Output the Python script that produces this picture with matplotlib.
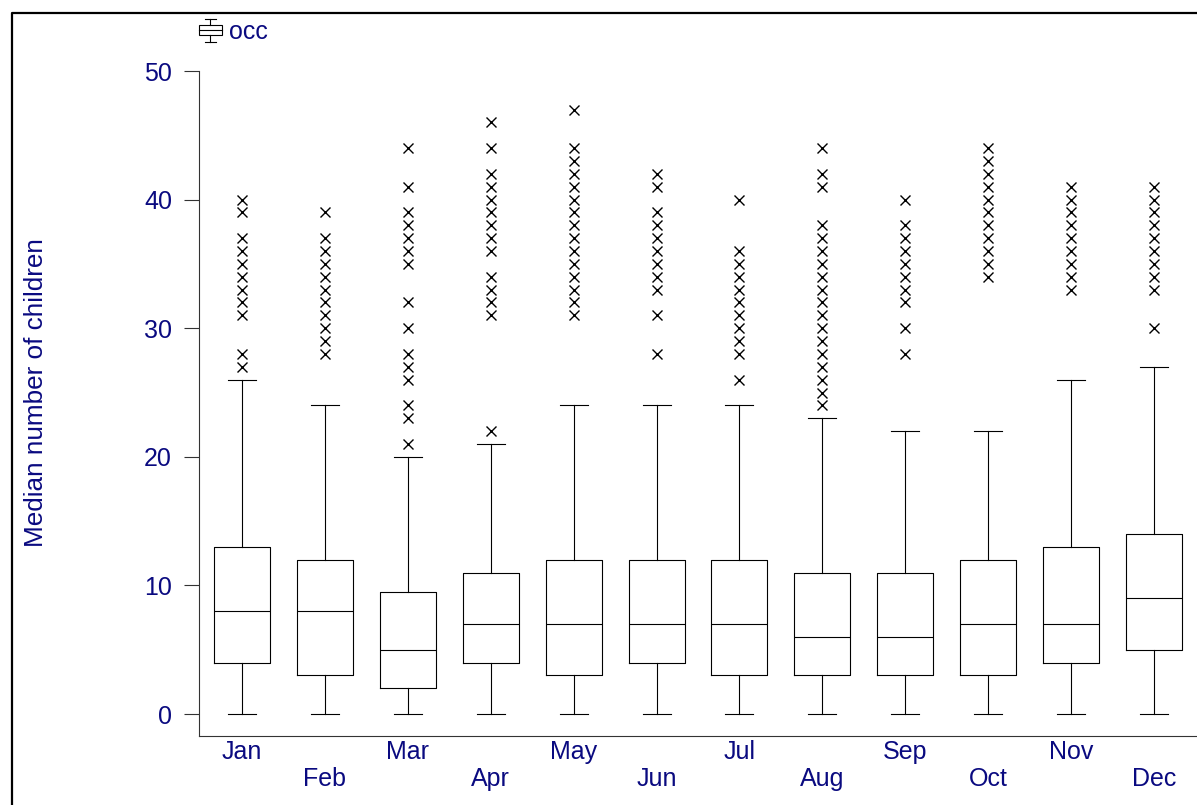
import matplotlib.pyplot as plt
from matplotlib.legend_handler import HandlerBase
from matplotlib.lines import Line2D
from matplotlib.patches import Rectangle

plt.rcParams['font.family'] = ['Liberation Sans', 'DejaVu Sans']

NAVY = '#0a0a80'

months = ['Jan', 'Feb', 'Mar', 'Apr', 'May', 'Jun',
          'Jul', 'Aug', 'Sep', 'Oct', 'Nov', 'Dec']
q1 = [4, 3, 2, 4, 3, 4, 3, 3, 3, 3, 4, 5]
median = [8, 8, 5, 7, 7, 7, 7, 6, 6, 7, 7, 9]
q3 = [13, 12, 9.5, 11, 12, 12, 12, 11, 11, 12, 13, 14]
whisker_low = [0, 0, 0, 0, 0, 0, 0, 0, 0, 0, 0, 0]
whisker_high = [26, 24, 20, 21, 24, 24, 24, 23, 22, 22, 26, 27]
outliers = [
    [27, 28, 31, 32, 33, 34, 35, 36, 37, 39, 40],
    [28, 29, 30, 31, 32, 33, 34, 35, 36, 37, 39],
    [21, 23, 24, 26, 27, 28, 30, 32, 35, 36, 37, 38, 39, 41, 44],
    [22, 31, 32, 33, 34, 36, 37, 38, 39, 40, 41, 42, 44, 46],
    [31, 32, 33, 34, 35, 36, 37, 38, 39, 40, 41, 42, 43, 44, 47],
    [28, 31, 33, 34, 35, 36, 37, 38, 39, 41, 42],
    [26, 28, 29, 30, 31, 32, 33, 34, 35, 36, 40],
    [24, 25, 26, 27, 28, 29, 30, 31, 32, 33, 34, 35, 36, 37, 38, 41, 42, 44],
    [28, 30, 32, 33, 34, 35, 36, 37, 38, 40],
    [34, 35, 36, 37, 38, 39, 40, 41, 42, 43, 44],
    [33, 34, 35, 36, 37, 38, 39, 40, 41],
    [30, 33, 34, 35, 36, 37, 38, 39, 40, 41],
]


class BoxIcon(HandlerBase):
    """Small box-and-whisker glyph for the legend."""

    def create_artists(self, legend, orig_handle, xdescent, ydescent,
                       width, height, fontsize, trans):
        x0, y0 = -xdescent, -ydescent
        cx = x0 + width / 2
        kw = dict(color='black', lw=0.8, transform=trans)
        box = Rectangle((x0, y0 + 0.2 * height), width, 0.6 * height,
                        fc='white', ec='black', lw=0.8, transform=trans)
        med = Line2D([x0, x0 + width], [y0 + 0.5 * height] * 2, **kw)
        w1 = Line2D([cx, cx], [y0 - 0.15 * height, y0 + 0.2 * height], **kw)
        w2 = Line2D([cx, cx], [y0 + 0.8 * height, y0 + 1.15 * height], **kw)
        c1 = Line2D([cx - width / 4, cx + width / 4], [y0 - 0.15 * height] * 2, **kw)
        c2 = Line2D([cx - width / 4, cx + width / 4], [y0 + 1.15 * height] * 2, **kw)
        return [box, med, w1, w2, c1, c2]


stats = []
for i in range(len(months)):
    stats.append(dict(label=months[i], q1=q1[i], med=median[i], q3=q3[i],
                      whislo=whisker_low[i], whishi=whisker_high[i],
                      fliers=outliers[i]))

fig = plt.figure(figsize=(11.97, 8.05), dpi=100)
ax = fig.add_axes([0.1663, 0.0857, 0.8337, 0.8261])

line = dict(color='black', linewidth=0.8)
bp = ax.bxp(stats, positions=range(1, 13), widths=0.675,
            boxprops=line, medianprops=line, whiskerprops=line, capprops=line,
            flierprops=dict(marker='x', markeredgecolor='black',
                            markersize=7, markeredgewidth=1.0, linestyle='none'))

ax.set_xlim(0.481, 12.52)
ax.set_ylim(-1.71, 50)
for side in ('top', 'right'):
    ax.spines[side].set_visible(False)
for side in ('left', 'bottom'):
    ax.spines[side].set_color('#333333')
    ax.spines[side].set_linewidth(0.8)

ax.set_yticks(range(0, 51, 10))
ax.tick_params(axis='y', length=10.8, width=0.8, pad=8.6,
               labelsize=18, labelcolor=NAVY, color='#333333')

# alternate month labels on two rows
ax.set_xticks(range(1, 13, 2), months[0::2])
ax.set_xticks(range(2, 13, 2), months[1::2], minor=True)
ax.tick_params(axis='x', which='both', length=0, labelsize=18, labelcolor=NAVY)
ax.tick_params(axis='x', which='major', pad=3)
ax.tick_params(axis='x', which='minor', pad=22)

ax.set_ylabel('Median number of children', fontsize=18.8, color=NAVY)
ax.yaxis.set_label_coords(-0.151, 0.517)

handle = bp['boxes'][0]
leg = fig.legend([handle], ['occ'], handler_map={handle: BoxIcon()},
                 loc='center left', bbox_to_anchor=(199 / 1197, 1 - 32 / 805),
                 frameon=False, borderpad=0, borderaxespad=0,
                 handlelength=0.9, handletextpad=0.28, fontsize=18)
for t in leg.get_texts():
    t.set_color(NAVY)

# outer frame, only its left and top edges fall inside the canvas
x_edge, y_edge = 12 / 1197, 1 - 13 / 805
fig.add_artist(Line2D([x_edge, x_edge, 1.01], [-0.01, y_edge, y_edge],
                      transform=fig.transFigure, color='black', linewidth=1.6))

fig.savefig('out.png', dpi=100)
